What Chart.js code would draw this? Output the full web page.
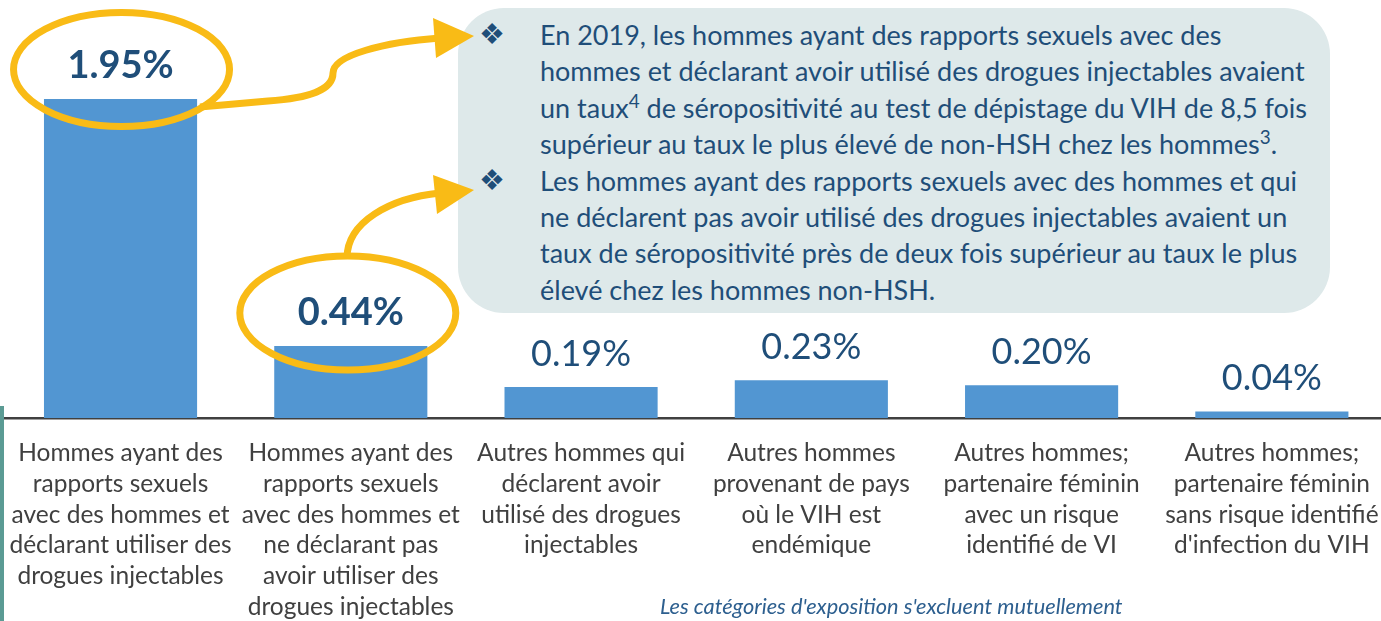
<!DOCTYPE html>
<html lang="fr">
<head>
<meta charset="utf-8">
<script src="https://cdn.jsdelivr.net/npm/chart.js@4"></script>
<style>
  html, body { margin:0; padding:0; background:#fff; overflow:hidden; }
  #wrap { position:relative; width:1387px; height:621px; }
  #chart { position:absolute; left:0; top:0; z-index:1; }
  .note {
    position:absolute; left:458px; top:8px; width:872px; height:305px;
    border-radius:46px; background:#dee9ea; z-index:0;
    box-sizing:border-box; padding-top:9px;
    font-family:Lato, sans-serif; font-size:27px; line-height:36.4px; color:#1f4e79;
    white-space:nowrap;
  }
  .note p { margin:0; position:relative; padding-left:82px; }
  .note .bul { position:absolute; left:21px; top:-1px; font-family:"DejaVu Sans"; font-size:29px; line-height:36.4px; }
  .note sup { font-size:0.7em; line-height:0; vertical-align:0.55em; }
  .side { position:absolute; left:0; top:406px; width:4px; height:215px; background:#5b9b94; z-index:2; }
  .foot {
    position:absolute; left:660px; top:593px; z-index:2;
    font-family:Lato, sans-serif; font-style:italic; font-size:21.8px; line-height:26px; color:#2d5f8f; white-space:nowrap;
  }
</style>
</head>
<body>
<div id="wrap">
  <div class="note">
    <p><span class="bul">❖</span>En 2019, les hommes ayant des rapports sexuels avec des<br>hommes et déclarant avoir utilisé des drogues injectables avaient<br>un taux<sup>4</sup> de séropositivité au test de dépistage du VIH de 8,5 fois<br>supérieur au taux le plus élevé de non-HSH chez les hommes<sup>3</sup>.</p>
    <p><span class="bul">❖</span>Les hommes ayant des rapports sexuels avec des hommes et qui<br>ne déclarent pas avoir utilisé des drogues injectables avaient un<br>taux de séropositivité près de deux fois supérieur au taux le plus<br>élevé chez les hommes non-HSH.</p>
  </div>
  <canvas id="chart" width="1387" height="621"></canvas>
  <div class="side"></div>
  <div class="foot">Les catégories d'exposition s'excluent mutuellement</div>
</div>
<script>
// categories (multi-line tick labels)
const categories = [
  ["Hommes ayant des", "rapports sexuels", "avec des hommes et", "déclarant utiliser des", "drogues injectables"],
  ["Hommes ayant des", "rapports sexuels", "avec des hommes et", "ne déclarant pas", "avoir utiliser des", "drogues injectables"],
  ["Autres hommes qui", "déclarent avoir", "utilisé des drogues", "injectables"],
  ["Autres hommes", "provenant de pays", "où le VIH est", "endémique"],
  ["Autres hommes;", "partenaire féminin", "avec un risque", "identifié de VI"],
  ["Autres hommes;", "partenaire féminin", "sans risque identifié", "d'infection du VIH"]
];
// positivity rate, %
const rates = [1.95, 0.44, 0.19, 0.23, 0.20, 0.04];
const rateLabels = ["1.95%", "0.44%", "0.19%", "0.23%", "0.20%", "0.04%"];
const highlighted = [true, true, false, false, false, false];

const BAR = "#5296d2";
const NAVY = "#1f4e79";
const GOLD = "#f9bb16";

// value labels above bars
const valueLabels = {
  id: "valueLabels",
  afterDatasetsDraw(chart) {
    const ctx = chart.ctx;
    const meta = chart.getDatasetMeta(0);
    ctx.save();
    ctx.fillStyle = NAVY;
    ctx.textAlign = "center";
    ctx.textBaseline = "alphabetic";
    meta.data.forEach((bar, i) => {
      ctx.font = (highlighted[i] ? "bold 38px " : "36px ") + "Lato";
      ctx.fillText(rateLabels[i], bar.x, bar.y - 21);
    });
    ctx.restore();
  }
};

// gold ellipses + arrows pointing to the note
const callouts = {
  id: "callouts",
  afterDraw(chart) {
    const ctx = chart.ctx;
    const meta = chart.getDatasetMeta(0);
    const b0 = meta.data[0], b1 = meta.data[1];
    ctx.save();
    ctx.strokeStyle = GOLD;
    ctx.fillStyle = GOLD;
    ctx.lineWidth = 7;

    ctx.beginPath();
    ctx.ellipse(b0.x + 1, b0.y - 29.5, 108, 57, 0, 0, Math.PI * 2);
    ctx.stroke();
    ctx.beginPath();
    ctx.ellipse(b1.x - 3, b1.y - 33, 108, 57, 0, 0, Math.PI * 2);
    ctx.stroke();

    // arrow 1
    ctx.beginPath();
    ctx.moveTo(200, 107);
    ctx.lineTo(268, 101);
    ctx.bezierCurveTo(310, 98, 333, 90, 333, 73);
    ctx.bezierCurveTo(333, 55, 385, 42, 440, 38);
    ctx.stroke();
    ctx.beginPath();
    ctx.moveTo(433, 18); ctx.lineTo(474, 36); ctx.lineTo(436, 58); ctx.closePath();
    ctx.fill();

    // arrow 2
    ctx.beginPath();
    ctx.moveTo(347, 258);
    ctx.bezierCurveTo(347, 222, 390, 198, 440, 193);
    ctx.stroke();
    ctx.beginPath();
    ctx.moveTo(433, 175); ctx.lineTo(474, 190); ctx.lineTo(437, 214); ctx.closePath();
    ctx.fill();
    ctx.restore();
  }
};

new Chart(document.getElementById("chart"), {
  type: "bar",
  data: {
    labels: categories,
    datasets: [{
      data: rates,
      backgroundColor: BAR,
      borderWidth: 0,
      barPercentage: 0.665,
      categoryPercentage: 1
    }]
  },
  options: {
    responsive: false,
    animation: false,
    layout: { padding: { top: 9, left: 5.4, right: 0, bottom: 0 } },
    plugins: { legend: { display: false }, tooltip: { enabled: false } },
    scales: {
      x: {
        grid: { display: false, drawTicks: false },
        border: { display: true, color: "#404040", width: 2.5 },
        ticks: {
          color: "#404040",
          font: { family: "Lato", size: 24.5, lineHeight: 1.253 },
          padding: 20,
          maxRotation: 0,
          autoSkip: false
        },
        afterFit(scale) {
          scale.height = 203;
          scale.paddingLeft = 0;
          scale.paddingRight = 0;
        }
      },
      y: { display: false, min: 0, max: 2.5 }
    }
  },
  plugins: [valueLabels, callouts]
});
</script>
</body>
</html>
